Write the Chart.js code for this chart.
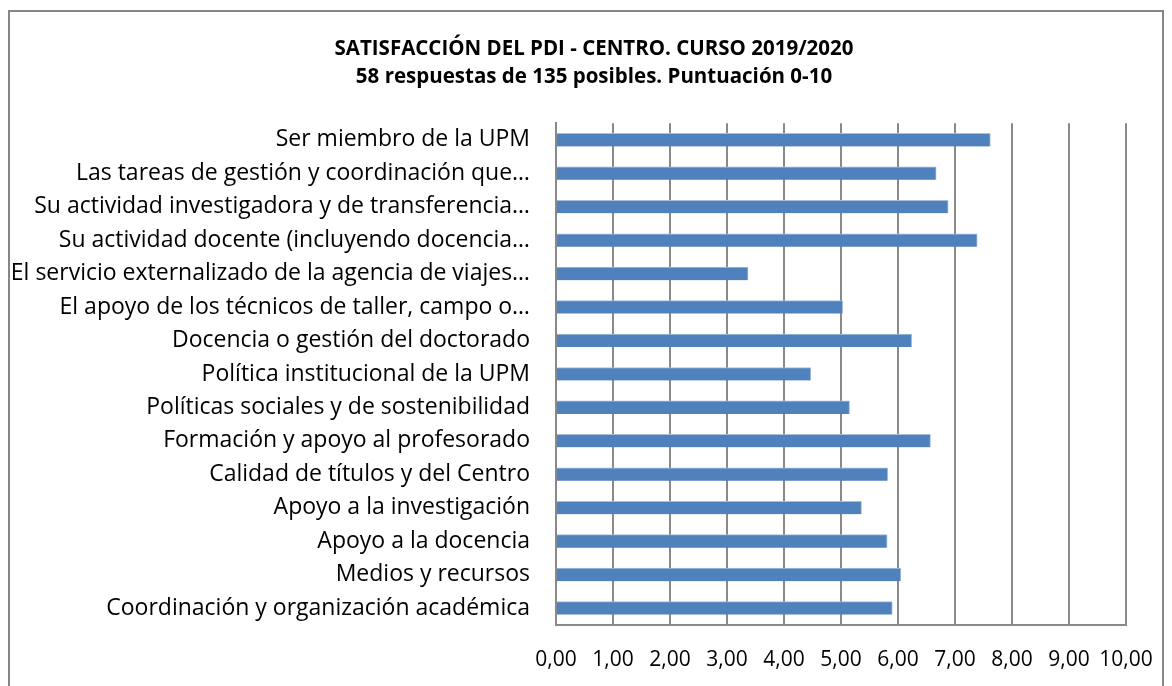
<!DOCTYPE html>
<html>
<head>
<meta charset="utf-8">
<script src="https://cdn.jsdelivr.net/npm/chart.js@4/dist/chart.umd.min.js"></script>
<style>
  body { margin: 0; background: #fff; }
  .box {
    position: absolute; left: 8px; top: 10px;
    width: 1156px; height: 720px;
    box-sizing: border-box; border: 2px solid #868686;
  }
  canvas { display: block; }
</style>
</head>
<body>
<div class="box"><canvas id="chart" width="1152" height="716"></canvas></div>
<script>
// Categories, top to bottom as in the picture
const categories = [
  'Ser miembro de la UPM',
  'Las tareas de gestión y coordinación que…',
  'Su actividad investigadora y de transferencia…',
  'Su actividad docente (incluyendo docencia…',
  'El servicio externalizado de la agencia de viajes…',
  'El apoyo de los técnicos de taller, campo o…',
  'Docencia o gestión del doctorado',
  'Política institucional de la UPM',
  'Políticas sociales y de sostenibilidad',
  'Formación y apoyo al profesorado',
  'Calidad de títulos y del Centro',
  'Apoyo a la investigación',
  'Apoyo a la docencia',
  'Medios y recursos',
  'Coordinación y organización académica'
];

// Scores 0-10
const scores = [7.62, 6.67, 6.88, 7.39, 3.37, 5.03, 6.24, 4.47, 5.15, 6.57, 5.82, 5.36, 5.81, 6.05, 5.90];

const titleLines = [
  'SATISFACCIÓN DEL PDI - CENTRO. CURSO 2019/2020',
  '58 respuestas de 135 posibles. Puntuación 0-10'
];

const fontFamily = '"Open Sans", Lato, sans-serif';
const gridGray = '#898989';

// Nudge the centred title a little to the right, like the original
const titleShift = {
  id: 'titleShift',
  afterLayout(chart) {
    if (chart.titleBlock) chart.titleBlock.left += 52;
  }
};

const ctx = document.getElementById('chart').getContext('2d');
const chart = new Chart(ctx, {
  type: 'bar',
  data: {
    labels: categories,
    datasets: [{
      label: 'Puntuación',
      data: scores,
      backgroundColor: '#4F81BD',
      borderColor: '#A7BEDD',
      borderWidth: { top: 1, right: 1, bottom: 0, left: 0 },
      borderSkipped: 'start',
      barThickness: 13
    }]
  },
  options: {
    indexAxis: 'y',
    responsive: false,
    animation: false,
    layout: {
      padding: { left: 0, right: 36, top: 0, bottom: 32 }
    },
    plugins: {
      legend: { display: false },
      tooltip: { enabled: false },
      title: {
        display: true,
        text: titleLines,
        color: '#000',
        font: { family: fontFamily, size: 20.5, weight: 'bold', lineHeight: 1.37 },
        padding: { top: 23, bottom: 32 }
      }
    },
    scales: {
      x: {
        min: 0,
        max: 10,
        afterFit: s => { s.paddingRight = 0; s.paddingLeft = 0; },
        ticks: {
          stepSize: 1,
          color: '#000',
          padding: 23,
          maxRotation: 0,
          minRotation: 0,
          autoSkip: false,
          font: { family: fontFamily, size: 21 },
          callback: v => Number(v).toFixed(2).replace('.', ',')
        },
        grid: { color: gridGray, lineWidth: 2, drawTicks: false },
        border: { color: gridGray, width: 2 }
      },
      y: {
        afterFit: s => { s.width = 546; },
        ticks: {
          color: '#000',
          padding: 18,
          autoSkip: false,
          font: { family: fontFamily, size: 23 }
        },
        grid: { display: false },
        border: { display: true, color: gridGray, width: 2 }
      }
    }
  },
  plugins: [titleShift]
});
</script>
</body>
</html>
